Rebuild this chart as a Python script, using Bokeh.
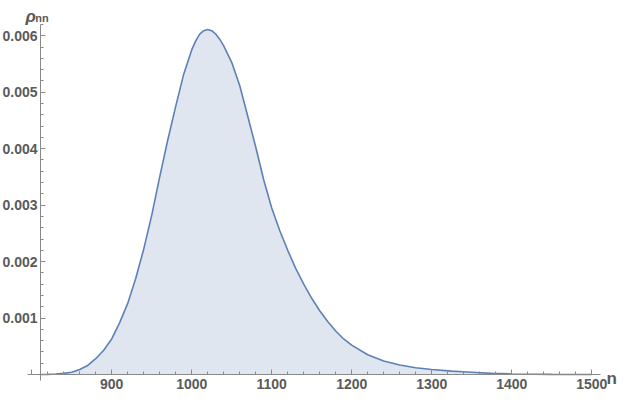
from bokeh.plotting import figure
from bokeh.models import Range1d, Label, FixedTicker, NumeralTickFormatter
from bokeh.embed import file_html
from bokeh.resources import INLINE

# data
n_values = [810, 820, 830, 840, 850, 860, 870, 880, 890, 900, 910, 920, 930, 940, 950,
            960, 970, 980, 990, 1000, 1005, 1010, 1015, 1020, 1025, 1030, 1035, 1040, 1050,
            1060, 1070, 1080, 1090, 1100, 1110, 1120, 1130, 1140, 1150, 1160, 1170, 1180,
            1190, 1200, 1220, 1240, 1260, 1280, 1300, 1325, 1350, 1375, 1400, 1450, 1500]
rho_values = [0.0, 0.000003, 0.00001, 0.00002, 0.00004, 0.00009, 0.00016, 0.00028, 0.00043,
              0.00063, 0.00092, 0.00126, 0.00170, 0.00222, 0.00282, 0.00350, 0.00415, 0.00475,
              0.00532, 0.00575, 0.00591, 0.00603, 0.00609, 0.00611, 0.00609, 0.00603, 0.00594,
              0.00582, 0.00553, 0.00512, 0.00458, 0.00403, 0.00345, 0.00295, 0.00255, 0.00220,
              0.00188, 0.00160, 0.00135, 0.00113, 0.00094, 0.00077, 0.00063, 0.00052, 0.00035,
              0.00024, 0.00017, 0.00012, 0.00009, 0.00006, 0.00004, 0.00002, 0.00001,
              0.000003, 0.0]

x_ticks = [800, 900, 1000, 1100, 1200, 1300, 1400, 1500]
x_minor = [v for v in range(800, 1512, 20) if v % 100 != 0]
y_ticks = [0.001, 0.002, 0.003, 0.004, 0.005, 0.006]
y_minor = [round(0.0002 * k, 4) for k in range(1, 32) if k % 5 != 0]

x_label = "n"
y_label_main = "ρ"
y_label_sub = "nn"

LINE = "#5e81b5"
AXIS = "#8a8a8a"
TXT = "#5a5a5a"
FONT = "Liberation Sans"

p = figure(width=618, height=394, output_backend="svg", toolbar_location=None,
           x_range=Range1d(761, 1533.5), y_range=Range1d(-0.000354, 0.006625),
           min_border=0)
p.min_border_left = 0
p.min_border_right = 0
p.min_border_top = 0
p.min_border_bottom = 0
p.background_fill_color = "white"
p.border_fill_color = "white"
p.outline_line_color = None
p.grid.visible = False

p.varea(x=n_values, y1=0, y2=rho_values, fill_color=LINE, fill_alpha=0.2)
p.line(n_values, rho_values, line_color=LINE, line_width=1.6)

for ax in (p.xaxis[0], p.yaxis[0]):
    ax.axis_line_color = AXIS
    ax.axis_line_width = 1
    ax.major_tick_line_color = AXIS
    ax.minor_tick_line_color = AXIS
    ax.major_tick_in = 5
    ax.major_tick_out = 0
    ax.minor_tick_in = 3
    ax.minor_tick_out = 0
    ax.major_label_text_font = FONT
    ax.major_label_text_font_size = "14px"
    ax.major_label_text_font_style = "bold"
    ax.major_label_text_color = TXT

p.xaxis.fixed_location = 0
p.yaxis.fixed_location = 811
p.xaxis.bounds = (795, 1511)
p.yaxis.bounds = (-0.000106, 0.0062)
p.xaxis.ticker = FixedTicker(ticks=x_ticks, minor_ticks=x_minor)
p.xaxis.major_label_overrides = {800: ""}
p.yaxis.ticker = FixedTicker(ticks=y_ticks, minor_ticks=y_minor)
p.yaxis.formatter = NumeralTickFormatter(format="0.000")
p.xaxis.major_label_standoff = 4
p.yaxis.major_label_standoff = 3

p.add_layout(Label(x=792.3, y=0.00634, text=y_label_main, text_font=FONT,
                   text_font_size="17px", text_font_style="bold italic",
                   text_color=TXT, text_baseline="alphabetic"))
p.add_layout(Label(x=804.5, y=0.00631, text=y_label_sub, text_font=FONT,
                   text_font_size="11px", text_font_style="bold",
                   text_color=TXT, text_baseline="alphabetic"))
p.add_layout(Label(x=1518.5, y=-0.00007, text=x_label, text_font=FONT,
                   text_font_size="17px", text_font_style="bold",
                   text_color=TXT, text_baseline="alphabetic"))

open("out.html", "w").write(file_html(p, INLINE))
